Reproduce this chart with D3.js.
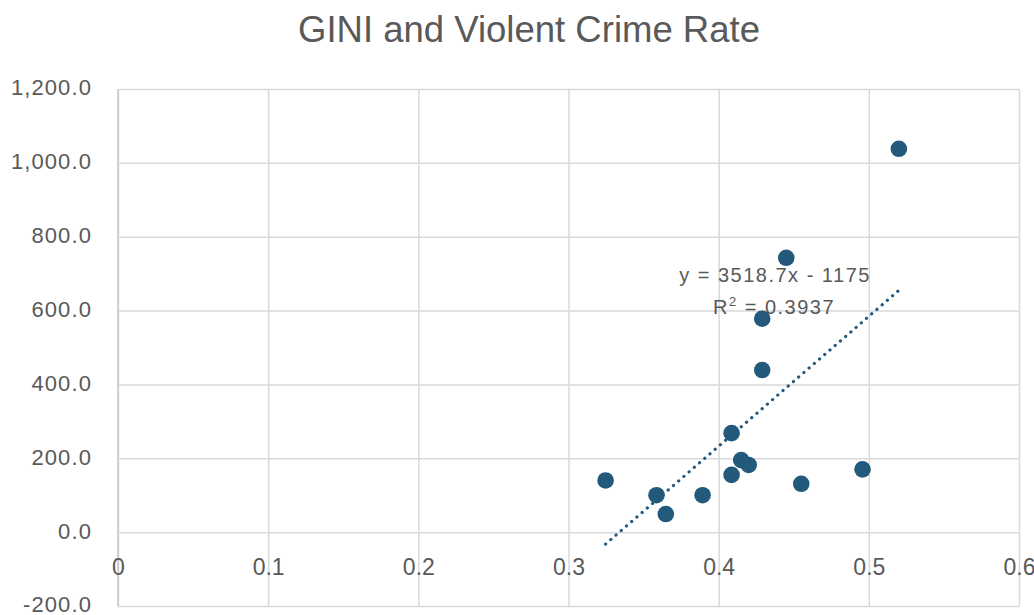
<!DOCTYPE html>
<html>
<head>
<meta charset="utf-8">
<script src="https://cdn.jsdelivr.net/npm/d3@7"></script>
<style>
  html, body { margin: 0; padding: 0; background: #fff; }
  svg { display: block; }
</style>
</head>
<body>
<svg id="chart" width="1034" height="615"></svg>
<script>
// GINI coefficient per region and violent crime rate
const giniValues = [0.520, 0.445, 0.429, 0.429, 0.4086, 0.415, 0.420, 0.4086, 0.4958, 0.455, 0.3247, 0.3586, 0.3893, 0.3648];
const crimeRates = [1038, 743, 578, 439, 268, 195, 182, 155, 170, 131, 140, 100, 100, 49];

// Linear trend line coefficients and fit quality
const trendSlope = 3518.7;
const trendIntercept = -1175;
const trendR2 = 0.3937;

const xTicks = [0, 0.1, 0.2, 0.3, 0.4, 0.5, 0.6];
const yTicks = [-200, 0, 200, 400, 600, 800, 1000, 1200];

const chartTitle = "GINI and Violent Crime Rate";

const svg = d3.select("#chart");
const plotLeft = 118, plotRight = 1019, plotTop = 89, plotBottom = 606;

const x = d3.scaleLinear().domain([0, 0.6]).range([plotLeft, plotRight]);
const y = d3.scaleLinear().domain([-200, 1200]).range([plotBottom, plotTop]);

const gridColor = "#d9d9d9";
const textColor = "#595959";
const dotColor = "#235a7c";
const font = "'Liberation Sans', Arial, sans-serif";

// Number formats using a plain hyphen for negatives
const locale = d3.formatLocale({ decimal: ".", thousands: ",", grouping: [3], currency: ["", ""], minus: "-" });
const yFmt = locale.format(",.1f");
const xFmt = locale.format("");

// Title
svg.append("text")
  .attr("x", 529).attr("y", 41.5)
  .attr("text-anchor", "middle")
  .attr("font-family", font)
  .attr("font-size", 36)
  .attr("textLength", 462)
  .attr("lengthAdjust", "spacingAndGlyphs")
  .attr("fill", textColor)
  .text(chartTitle);

// Horizontal gridlines
svg.append("g")
  .attr("transform", `translate(${plotLeft},0)`)
  .call(d3.axisLeft(y).tickValues(yTicks).tickSize(-(plotRight - plotLeft)).tickFormat(""))
  .call(g => g.select(".domain").remove())
  .call(g => g.selectAll(".tick line").attr("stroke", gridColor).attr("stroke-width", 1.5));

// Vertical gridlines
svg.append("g")
  .attr("transform", `translate(0,${plotBottom})`)
  .call(d3.axisBottom(x).tickValues(xTicks).tickSize(-(plotBottom - plotTop)).tickFormat(""))
  .call(g => g.select(".domain").remove())
  .call(g => g.selectAll(".tick line").attr("stroke", gridColor).attr("stroke-width", 1.5));

// Vertical axis line
svg.append("line")
  .attr("x1", x(0)).attr("x2", x(0))
  .attr("y1", plotTop).attr("y2", plotBottom)
  .attr("stroke", "#c8c8c8").attr("stroke-width", 1.5);

// Y tick labels
svg.append("g")
  .attr("transform", `translate(${plotLeft},0)`)
  .call(d3.axisLeft(y).tickValues(yTicks).tickSize(0).tickPadding(26).tickFormat(d => yFmt(d)))
  .call(g => g.select(".domain").remove())
  .call(g => g.selectAll("text")
    .attr("dy", "0.27em")
    .attr("font-family", font)
    .attr("font-size", 22)
    .attr("letter-spacing", 1.1)
    .attr("fill", textColor));

// X tick labels, placed beside the zero line
svg.append("g")
  .attr("transform", `translate(0,${y(0)})`)
  .call(d3.axisBottom(x).tickValues(xTicks).tickSize(0).tickPadding(43).tickFormat(d => xFmt(d)))
  .call(g => g.select(".domain").remove())
  .call(g => g.selectAll("text")
    .attr("dy", "0")
    .attr("font-family", font)
    .attr("font-size", 23)
    .attr("fill", textColor));

// Trend line over the data range
const xExtent = d3.extent(giniValues);
svg.append("line")
  .attr("x1", x(xExtent[0])).attr("y1", y(trendSlope * xExtent[0] + trendIntercept))
  .attr("x2", x(xExtent[1])).attr("y2", y(trendSlope * xExtent[1] + trendIntercept))
  .attr("stroke", dotColor)
  .attr("stroke-width", 3.2)
  .attr("stroke-linecap", "round")
  .attr("stroke-dasharray", "0.1 6.8");

// Data points
svg.append("g")
  .selectAll("circle")
  .data(giniValues.map((g, i) => ({ g, c: crimeRates[i] })))
  .join("circle")
  .attr("cx", d => x(d.g))
  .attr("cy", d => y(d.c))
  .attr("r", 8.3)
  .attr("fill", dotColor);

// Trend line equation
const eq = svg.append("text")
  .attr("font-family", font)
  .attr("font-size", 20)
  .attr("letter-spacing", 1.5)
  .attr("fill", textColor)
  .attr("text-anchor", "middle");
eq.append("tspan").attr("x", 775).attr("y", 281.5)
  .text(`y = ${trendSlope}x - ${Math.abs(trendIntercept)}`);
const r2 = eq.append("tspan").attr("x", 774).attr("y", 314);
r2.append("tspan").text("R");
r2.append("tspan").attr("dy", -8).attr("font-size", 13).text("2");
r2.append("tspan").attr("dy", 8).text(` = ${trendR2}`);
</script>
</body>
</html>
